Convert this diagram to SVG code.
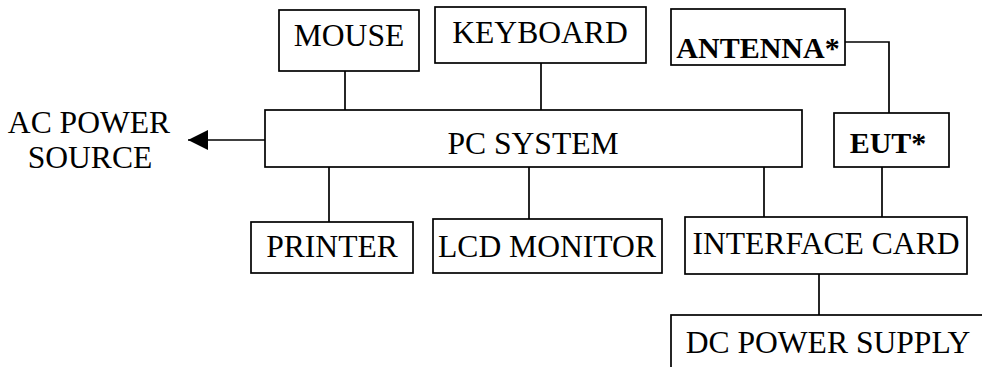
<svg xmlns="http://www.w3.org/2000/svg" width="982" height="367" viewBox="0 0 982 367">
<defs>
<style>
.box{fill:#fff;stroke:#000;stroke-width:1.7}
text{fill:#000;text-anchor:middle}
.c{fill:none;stroke:#000;stroke-width:1.7}
</style>
<marker id="ah" viewBox="0 0 20 20" refX="20" refY="10" markerWidth="20" markerHeight="20" markerUnits="userSpaceOnUse" orient="auto">
<path d="M0,0 L20,10 L0,20 Z" fill="#000"/>
</marker>
</defs>
<rect width="982" height="367" fill="#fff"/>
<g id="connectors">
<line class="c" x1="345" y1="71" x2="345" y2="110"/>
<line class="c" x1="541" y1="63" x2="541" y2="110"/>
<polyline class="c" points="845,42 889,42 889,113"/>
<line class="c" x1="265" y1="140" x2="188" y2="140" marker-end="url(#ah)"/>
<line class="c" x1="329" y1="167" x2="329" y2="222"/>
<line class="c" x1="529" y1="167" x2="529" y2="219"/>
<line class="c" x1="764" y1="167" x2="764" y2="217"/>
<line class="c" x1="882" y1="167" x2="882" y2="217"/>
<line class="c" x1="819" y1="274" x2="819" y2="315"/>
</g>
<g font-family="'Liberation Serif', 'Times New Roman', serif" font-size="31.6">
<g id="mouse"><rect class="box" x="279" y="10" width="140" height="61"/><text x="349" y="46">MOUSE</text></g>
<g id="keyboard"><rect class="box" x="435" y="7" width="211" height="56"/><text x="540" y="43">KEYBOARD</text></g>
<g id="antenna"><rect class="box" x="671" y="9" width="174" height="56"/><text x="758" y="58" font-weight="bold" font-size="30">ANTENNA*</text></g>
<g id="pc-system"><rect class="box" x="265" y="110" width="537" height="57"/><text x="533" y="154">PC SYSTEM</text></g>
<g id="eut"><rect class="box" x="834" y="113" width="115" height="54"/><text x="888" y="153" font-weight="bold" font-size="30">EUT*</text></g>
<g id="ac-power"><text x="89" y="133">AC POWER</text><text x="90" y="168">SOURCE</text></g>
<g id="printer"><rect class="box" x="251" y="222" width="162" height="51"/><text x="332" y="257">PRINTER</text></g>
<g id="lcd-monitor"><rect class="box" x="433" y="219" width="229" height="54"/><text x="547" y="257">LCD MONITOR</text></g>
<g id="interface-card"><rect class="box" x="685" y="217" width="282" height="57"/><text x="826" y="254">INTERFACE CARD</text></g>
<g id="dc-power-supply"><rect class="box" x="671" y="315" width="330" height="70"/><text x="828" y="353">DC POWER SUPPLY</text></g>
</g>
</svg>
